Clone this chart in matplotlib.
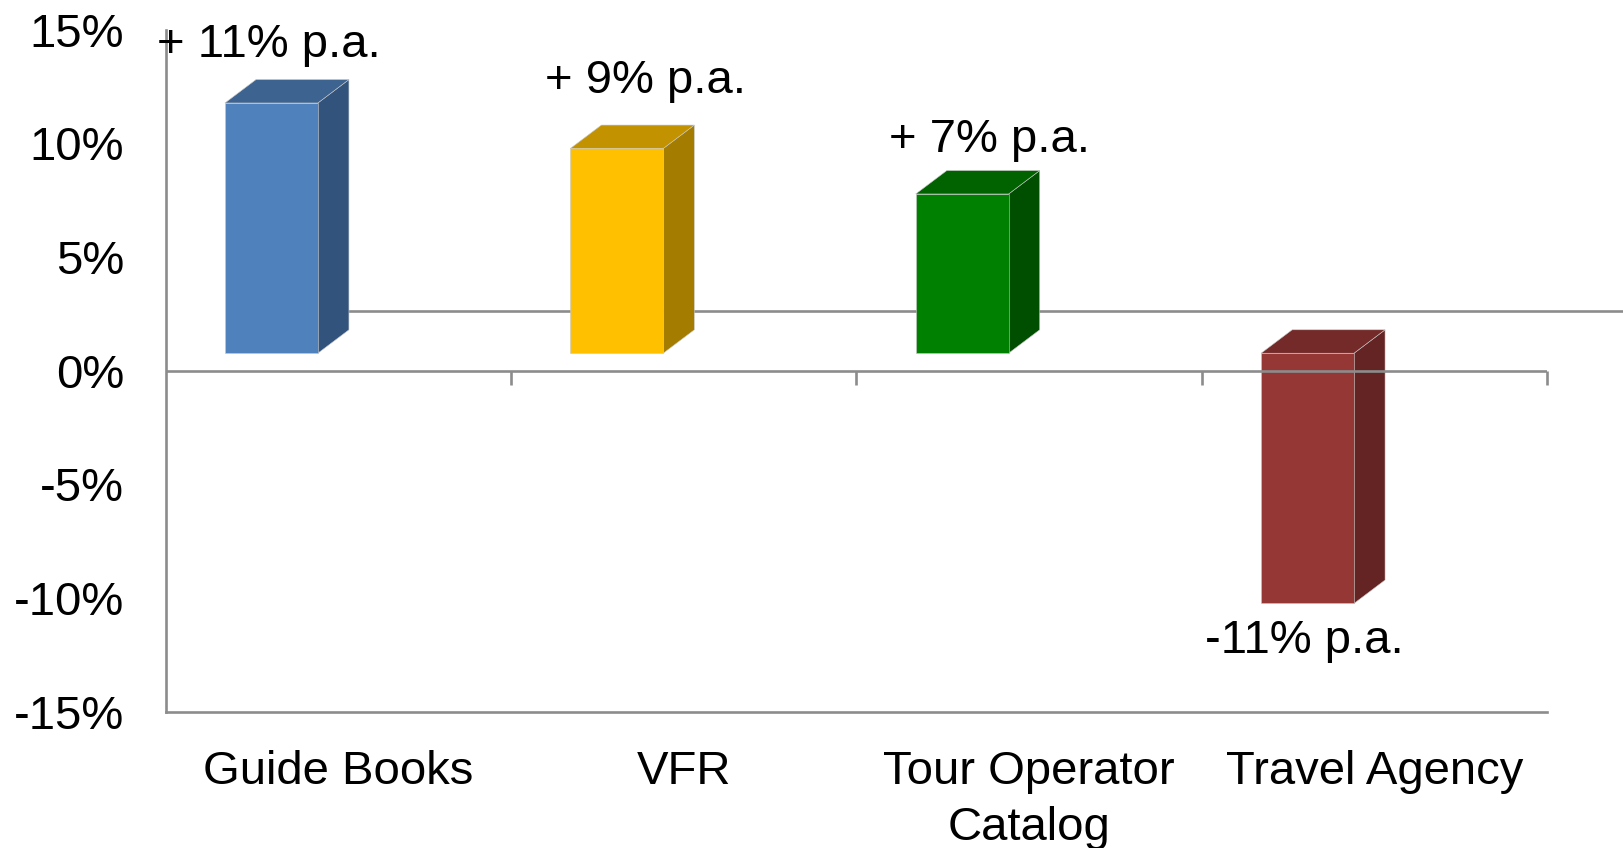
import matplotlib.pyplot as plt
from matplotlib.patches import Polygon

categories = ["Guide Books", "VFR", "Tour Operator\nCatalog", "Travel Agency"]
growth = [11, 9, 7, -11]
growth_labels = ["+ 11% p.a.", "+ 9% p.a.", "+ 7% p.a.", "-11% p.a."]
yticks = [-15, -10, -5, 0, 5, 10, 15]

front_colors = ["#4F81BD", "#FFC000", "#008000", "#953735"]
top_colors = ["#3D6390", "#C39200", "#006300", "#732A29"]
side_colors = ["#32537C", "#A47C00", "#004F00", "#632423"]

# label nudges (x in category units, y in % from bar end)
label_dx = [-0.007, 0.084, 0.079, -0.009]
label_dy = [2.03, 2.45, 1.86, -2.18]

plt.rcParams["font.family"] = ["Liberation Sans", "DejaVu Sans"]

fig = plt.figure(figsize=(16.23, 8.48), dpi=100)
ax = fig.add_axes([0.102, 0.1604, 0.8512, 0.8048])
ax.set_xlim(0, 4)
ax.set_ylim(-15, 15)
for s in ax.spines.values():
    s.set_visible(False)

# fake 3d column geometry, Excel style
base = 0.77
x_off = 0.172
w = 0.269
dx = 0.09
dy = 1.03

gray = "#8C8C8C"
lw = 1.9

# back edge of the floor, hidden behind the bars
ax.plot([x_off + w / 2, 4.25], [2.62, 2.62], color=gray, lw=lw,
        clip_on=False, zorder=1, solid_capstyle="butt")

for i, v in enumerate(growth):
    x0 = i + x_off
    lo, hi = sorted([base, base + v])
    front = [(x0, lo), (x0 + w, lo), (x0 + w, hi), (x0, hi)]
    top = [(x0, hi), (x0 + dx, hi + dy), (x0 + w + dx, hi + dy), (x0 + w, hi)]
    side = [(x0 + w, lo), (x0 + w + dx, lo + dy), (x0 + w + dx, hi + dy), (x0 + w, hi)]
    for pts, c in [(side, side_colors[i]), (top, top_colors[i]), (front, front_colors[i])]:
        ax.add_patch(Polygon(pts, closed=True, facecolor=c, edgecolor="#C8C8C8",
                             lw=0.4, joinstyle="miter", zorder=2))

    ax.text(x0 + w / 2 + label_dx[i], base + v + label_dy[i], growth_labels[i],
            ha="center", va="baseline", fontsize=34, color="black", zorder=6)

# axes lines
ax.plot([0, 4], [0, 0], color=gray, lw=lw, zorder=5, solid_capstyle="butt")
ax.plot([0, 0], [-15, 15], color=gray, lw=lw, zorder=5, clip_on=False)
ax.plot([0, 4], [-15, -15], color=gray, lw=lw, zorder=5, clip_on=False)
for k in range(1, 5):
    ax.plot([k, k], [0, -0.62], color=gray, lw=lw, zorder=5, clip_on=False,
            solid_capstyle="butt")

ax.set_xticks([])
ax.set_yticks(yticks)
ax.set_yticklabels([f"{t}%" for t in yticks])
ax.tick_params(axis="y", length=0, pad=30, labelsize=34)

# category names, one line at a time so baselines line up
for i, name in enumerate(categories):
    for j, line in enumerate(name.split("\n")):
        ax.annotate(line, xy=(i + 0.5, -15), xytext=(0, -51.8 - 40.3 * j),
                    textcoords="offset points", ha="center", va="baseline",
                    fontsize=34, annotation_clip=False)

fig.savefig("out.png", dpi=100)
